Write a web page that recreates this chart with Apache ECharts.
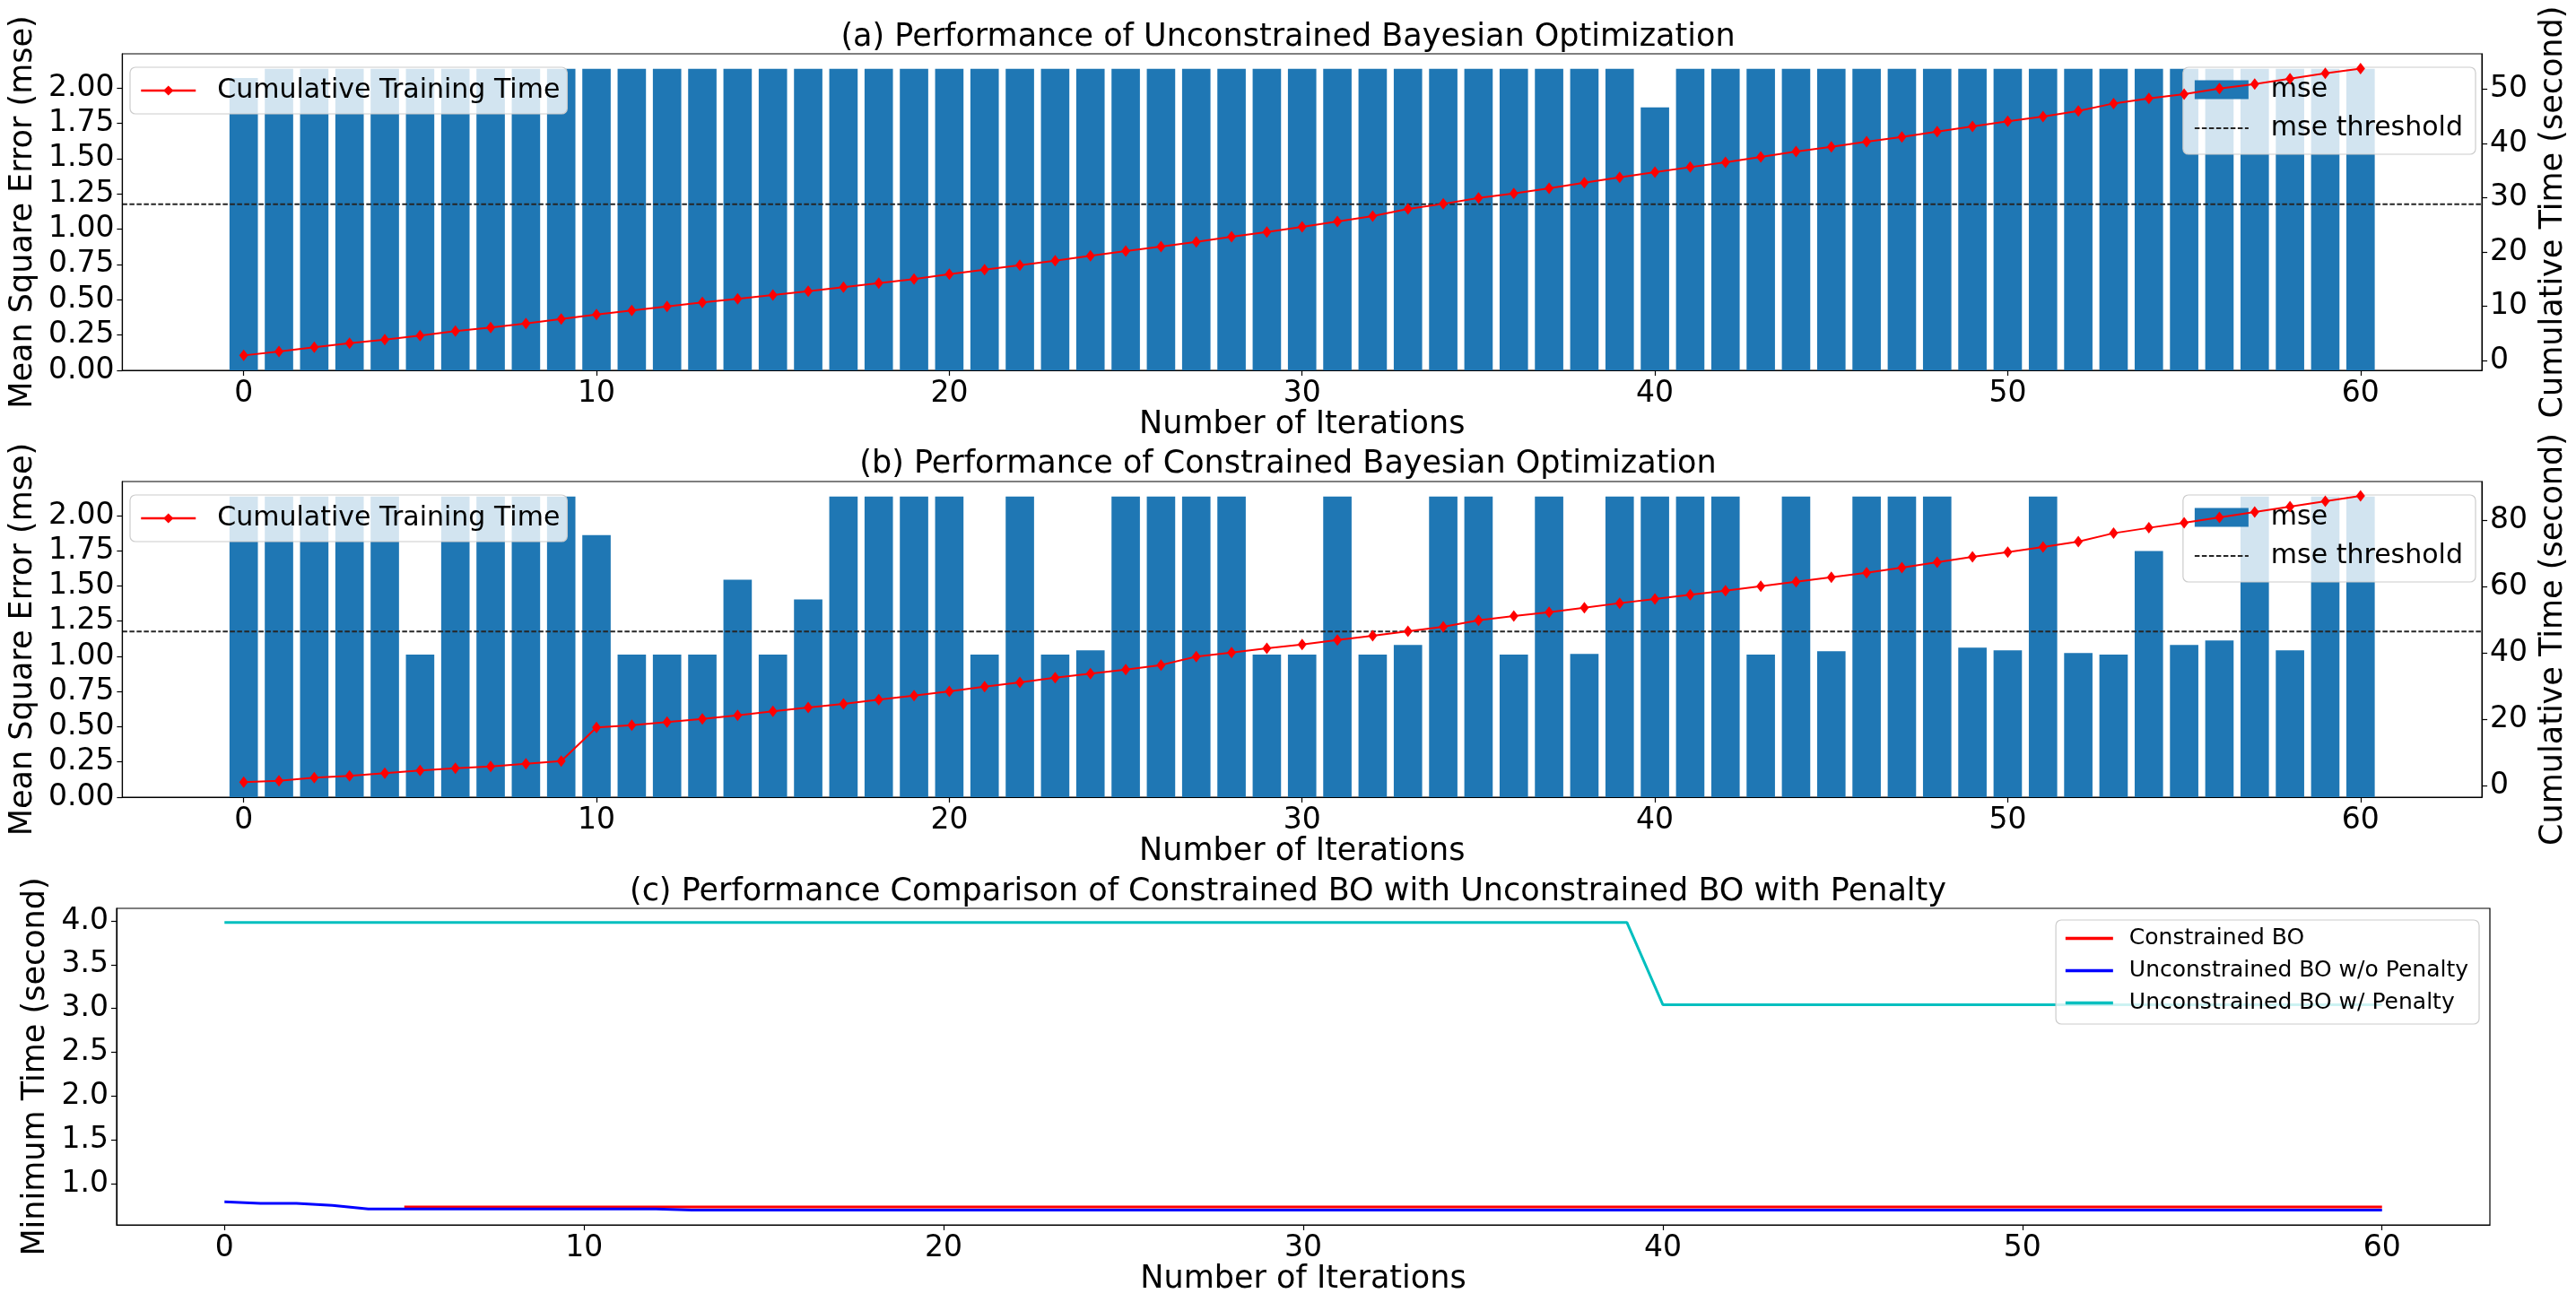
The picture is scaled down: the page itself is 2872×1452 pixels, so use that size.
<!DOCTYPE html>
<html><head><meta charset="utf-8">
<script src="https://cdn.jsdelivr.net/npm/echarts@6/dist/echarts.min.js"></script>
<style>html,body{margin:0;padding:0;background:#fff}#c{width:2872px;height:1452px}</style>
</head><body><div id="c"></div>
<script>
// ---------------- DATA ----------------
const iterations = [0,1,2,3,4,5,6,7,8,9,10,11,12,13,14,15,16,17,18,19,20,21,22,23,24,25,26,27,28,29,30,
  31,32,33,34,35,36,37,38,39,40,41,42,43,44,45,46,47,48,49,50,51,52,53,54,55,56,57,58,59,60];

const mseUnconstrained = [2.07,2.135,2.135,2.135,2.135,2.135,2.135,2.135,2.135,2.135,
  2.135,2.135,2.135,2.135,2.135,2.135,2.135,2.135,2.135,2.135,
  2.135,2.135,2.135,2.135,2.135,2.135,2.135,2.135,2.135,2.135,
  2.135,2.135,2.135,2.135,2.135,2.135,2.135,2.135,2.135,2.135,
  1.862,2.135,2.135,2.135,2.135,2.135,2.135,2.135,2.135,2.135,
  2.135,2.135,2.135,2.135,2.135,2.135,2.135,2.135,2.135,2.135,2.135];

const timeUnconstrained = [0.93,1.65,2.42,3.19,3.85,4.57,5.40,6.06,6.83,7.66,
  8.48,9.20,9.97,10.69,11.35,12.07,12.78,13.50,14.27,14.99,
  15.93,16.75,17.58,18.41,19.29,20.17,21.00,21.88,22.82,23.70,
  24.64,25.63,26.62,27.94,28.88,29.98,30.81,31.75,32.80,33.79,
  34.72,35.66,36.55,37.54,38.53,39.41,40.35,41.23,42.22,43.16,
  44.10,44.98,46.03,47.40,48.34,49.11,50.16,50.99,51.98,52.97,53.85];

const mseConstrained = [2.135,2.135,2.135,2.135,2.135,1.012,2.135,2.135,2.135,2.135,
  1.862,1.012,1.012,1.012,1.545,1.012,1.405,2.135,2.135,2.135,
  2.135,1.012,2.135,1.012,1.043,2.135,2.135,2.135,2.135,1.012,
  1.012,2.135,1.012,1.081,2.135,2.135,1.012,2.135,1.018,2.135,
  2.135,2.135,2.135,1.012,2.135,1.037,2.135,2.135,2.135,1.062,
  1.043,2.135,1.024,1.012,1.748,1.081,1.113,2.135,1.043,2.135,2.135];

const timeConstrained = [1.08,1.53,2.43,2.97,3.78,4.59,5.32,5.86,6.67,7.48,
  17.57,18.29,19.19,20.18,21.26,22.43,23.60,24.68,25.95,27.21,
  28.47,29.91,31.17,32.61,33.78,35.05,36.40,38.92,40.18,41.44,
  42.61,43.96,45.23,46.58,47.93,49.91,51.17,52.34,53.69,55.05,
  56.31,57.57,58.83,60.18,61.53,62.88,64.23,65.77,67.39,69.01,
  70.45,71.98,73.60,76.13,77.75,79.28,80.90,82.52,84.14,85.77,87.39];

const mseThreshold = 1.177;

const minTimeConstrainedBO = [null,null,null,null,null,0.737,0.737,0.737,0.737,0.737,
  0.737,0.737,0.737,0.737,0.737,0.737,0.737,0.737,0.737,0.737,
  0.737,0.737,0.737,0.737,0.737,0.737,0.737,0.737,0.737,0.737,
  0.737,0.737,0.737,0.737,0.737,0.737,0.737,0.737,0.737,0.737,
  0.737,0.737,0.737,0.737,0.737,0.737,0.737,0.737,0.737,0.737,
  0.737,0.737,0.737,0.737,0.737,0.737,0.737,0.737,0.737,0.737,0.737];

const minTimeUnconstrainedNoPenalty = [0.795,0.778,0.778,0.754,0.713,0.713,0.713,0.713,0.713,0.713,
  0.713,0.713,0.713,0.700,0.700,0.700,0.700,0.700,0.700,0.700,
  0.700,0.700,0.700,0.700,0.700,0.700,0.700,0.700,0.700,0.700,
  0.700,0.700,0.700,0.700,0.700,0.700,0.700,0.700,0.700,0.700,
  0.700,0.700,0.700,0.700,0.700,0.700,0.700,0.700,0.700,0.700,
  0.700,0.700,0.700,0.700,0.700,0.700,0.700,0.700,0.700,0.700,0.700];

const minTimeUnconstrainedPenalty = [3.983,3.983,3.983,3.983,3.983,3.983,3.983,3.983,3.983,3.983,
  3.983,3.983,3.983,3.983,3.983,3.983,3.983,3.983,3.983,3.983,
  3.983,3.983,3.983,3.983,3.983,3.983,3.983,3.983,3.983,3.983,
  3.983,3.983,3.983,3.983,3.983,3.983,3.983,3.983,3.983,3.983,
  3.044,3.044,3.044,3.044,3.044,3.044,3.044,3.044,3.044,3.044,
  3.044,3.044,3.044,3.044,3.044,3.044,3.044,3.044,3.044,3.044,3.044];

const xTickLabels = [0,10,20,30,40,50,60];
const mseTicks = [0,0.25,0.5,0.75,1.0,1.25,1.5,1.75,2.0];
const timeTicksA = [0,10,20,30,40,50];
const timeTicksB = [0,20,40,60,80];
const minTimeTicks = [1.0,1.5,2.0,2.5,3.0,3.5,4.0];

const titles = [
  '(a) Performance of Unconstrained Bayesian Optimization',
  '(b) Performance of Constrained Bayesian Optimization',
  '(c) Performance Comparison of Constrained BO with Unconstrained BO with Penalty'
];

// ---------------- CHART ----------------
const FONT = 'DejaVu Sans';
const GL = 130, GR = 96, W = 2872;
const plotW = W - GL - GR;
const grids = [
  {top: 60, height: 353},
  {top: 537, height: 352},
  {top: 1013, height: 353}
];
const XA = [-3.44, 63.44], XC = [-3, 63];
const barW = plotW / (XA[1] - XA[0]) * 0.8;

const pairs = (ys) => iterations.map((x, i) => [x, ys[i]]);

function xAxis(gi, ext) {
  return {
    type: 'value', gridIndex: gi, min: ext[0], max: ext[1], z: 10,
    axisLine: {show: true, onZero: false, lineStyle: {color: '#000', width: 1.2}},
    axisTick: {show: true, customValues: xTickLabels, length: 6, lineStyle: {color: '#000', width: 1.2}},
    axisLabel: {customValues: xTickLabels, fontSize: 33, color: '#000', fontFamily: FONT, margin: 10},
    splitLine: {show: false},
    name: 'Number of Iterations', nameLocation: 'middle', nameGap: 43,
    nameTextStyle: {fontSize: 35, color: '#000', fontFamily: FONT}
  };
}
function yAxis(gi, pos, ext, ticks, fmt, name, gap) {
  return {
    type: 'value', gridIndex: gi, position: pos, min: ext[0], max: ext[1], z: 10,
    axisLine: {show: true, onZero: false, lineStyle: {color: '#000', width: 1.2}},
    axisTick: {show: true, customValues: ticks, length: 6, lineStyle: {color: '#000', width: 1.2}},
    axisLabel: {customValues: ticks, fontSize: 33, color: '#000', fontFamily: FONT, margin: 9,
      formatter: fmt},
    splitLine: {show: false},
    name: name, nameLocation: 'middle', nameRotate: 90, nameGap: gap,
    nameTextStyle: {fontSize: 35, color: '#000', fontFamily: FONT}
  };
}
const f2 = v => Number(v).toFixed(2);
const f1 = v => Number(v).toFixed(1);
const f0 = v => String(Math.round(v));

const legendBase = {
  backgroundColor: 'rgba(255,255,255,0.8)', borderColor: '#cccccc', borderWidth: 1.2,
  borderRadius: 6, selectedMode: false, z: 4
};
const noSym = {opacity: 0, borderWidth: 0};

function panelSeries(gi, mse, time) {
  return [
    {type: 'bar', name: 'mse', xAxisIndex: gi, yAxisIndex: gi === 0 ? 0 : 2, data: pairs(mse),
      barWidth: barW, itemStyle: {color: '#1f77b4'}, z: 2},
    {type: 'line', name: 'mse threshold', xAxisIndex: gi, yAxisIndex: gi === 0 ? 0 : 2,
      data: [[XA[0], mseThreshold], [XA[1], mseThreshold]], symbol: 'none',
      lineStyle: {color: '#262626', width: 2, type: [5.5, 2.5]}, itemStyle: {color: '#262626'}, z: 3},
    {type: 'line', name: 'Cumulative Training Time', xAxisIndex: gi, yAxisIndex: gi === 0 ? 1 : 3,
      data: pairs(time), symbol: 'diamond', symbolSize: [10, 13], showAllSymbol: true,
      lineStyle: {color: '#ff0000', width: 2}, itemStyle: {color: '#ff0000'}, z: 6}
  ];
}

function mseLegend(top) {
  return Object.assign({}, legendBase, {right: 112, top: top, orient: 'vertical',
    data: [{name: 'mse', icon: 'rect'},
           {name: 'mse threshold', itemStyle: noSym, lineStyle: {width: 2, type: [5.5, 2.5], color: '#262626'}}],
    itemWidth: 60, itemHeight: 21, itemGap: 13,
    padding: [10, 14, 14, 12],
    textStyle: {fontSize: 30, color: '#000', fontFamily: FONT, padding: [0, 0, 0, 20]}});
}
function timeLegend(top) {
  return Object.assign({}, legendBase, {left: 145, top: top, orient: 'horizontal',
    data: [{name: 'Cumulative Training Time', lineStyle: {width: 2.5, color: '#ff0000'}}],
    itemWidth: 61, itemHeight: 14,
    padding: [11, 8, 11, 11],
    textStyle: {fontSize: 30, color: '#000', fontFamily: FONT, padding: [0, 0, 0, 19]}});
}

const option = {
  animation: false,
  backgroundColor: '#fff',
  textStyle: {fontFamily: FONT},
  title: [
    {text: titles[0], left: 'center', top: 21, padding: [0, 0, 0, 34],
      textStyle: {fontSize: 35, fontWeight: 'normal', color: '#000', fontFamily: FONT, lineHeight: 42}},
    {text: titles[1], left: 'center', top: 497, padding: [0, 0, 0, 34],
      textStyle: {fontSize: 35, fontWeight: 'normal', color: '#000', fontFamily: FONT, lineHeight: 42}},
    {text: titles[2], left: 'center', top: 974, padding: [0, 0, 0, 34],
      textStyle: {fontSize: 35, fontWeight: 'normal', color: '#000', fontFamily: FONT, lineHeight: 42}}
  ],
  grid: grids.map(g => ({left: GL, right: GR, top: g.top, height: g.height, show: true,
    borderColor: '#000', borderWidth: 1.2, backgroundColor: 'transparent', containLabel: false})),
  xAxis: [xAxis(0, XA), xAxis(1, XA), xAxis(2, XC)],
  yAxis: [
    yAxis(0, 'left', [0, 2.2418], mseTicks, f2, 'Mean Square Error (mse)', 90),
    yAxis(0, 'right', [-1.82, 56.56], timeTicksA, f0, 'Cumulative Time (second)', 52),
    yAxis(1, 'left', [0, 2.2418], mseTicks, f2, 'Mean Square Error (mse)', 90),
    yAxis(1, 'right', [-3.42, 91.7], timeTicksB, f0, 'Cumulative Time (second)', 52),
    yAxis(2, 'left', [0.532, 4.143], minTimeTicks, f1, 'Minimum Time (second)', 67)
  ],
  legend: [
    timeLegend(75),
    mseLegend(75),
    timeLegend(552),
    mseLegend(552),
    Object.assign({}, legendBase, {right: 108, top: 1026, orient: 'vertical',
      data: [{name: 'Constrained BO', itemStyle: noSym, lineStyle: {width: 3.5, color: '#ff0000'}},
             {name: 'Unconstrained BO w/o Penalty', itemStyle: noSym, lineStyle: {width: 3.5, color: '#0000ff'}},
             {name: 'Unconstrained BO w/ Penalty', itemStyle: noSym, lineStyle: {width: 3.5, color: '#00bfbf'}}],
      itemWidth: 53, itemHeight: 14, itemGap: 11, padding: [8, 12, 11, 9],
      textStyle: {fontSize: 25, color: '#000', fontFamily: FONT, padding: [0, 0, 0, 13]}})
  ],
  series: [
    ...panelSeries(0, mseUnconstrained, timeUnconstrained),
    ...panelSeries(1, mseConstrained, timeConstrained),
    {type: 'line', name: 'Constrained BO', xAxisIndex: 2, yAxisIndex: 4, data: pairs(minTimeConstrainedBO),
      symbol: 'none', connectNulls: false, lineStyle: {color: '#ff0000', width: 3}, itemStyle: {color: '#ff0000'}, z: 3},
    {type: 'line', name: 'Unconstrained BO w/o Penalty', xAxisIndex: 2, yAxisIndex: 4, data: pairs(minTimeUnconstrainedNoPenalty),
      symbol: 'none', lineStyle: {color: '#0000ff', width: 3}, itemStyle: {color: '#0000ff'}, z: 3},
    {type: 'line', name: 'Unconstrained BO w/ Penalty', xAxisIndex: 2, yAxisIndex: 4, data: pairs(minTimeUnconstrainedPenalty),
      symbol: 'none', lineStyle: {color: '#00bfbf', width: 3}, itemStyle: {color: '#00bfbf'}, z: 3}
  ]
};

const chart = echarts.init(document.getElementById('c'), null, {renderer: 'canvas', width: 2872, height: 1452});
chart.setOption(option);
</script>
</body></html>
